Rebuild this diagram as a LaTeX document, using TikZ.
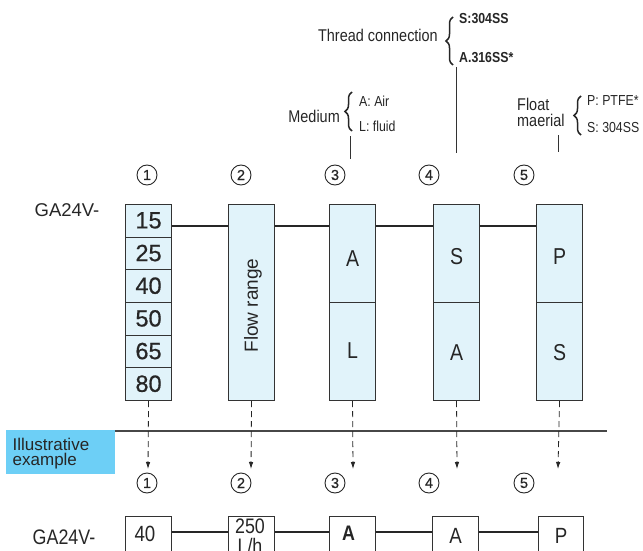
\documentclass[tikz,border=0pt]{standalone}
\usepackage{fontspec}
\setmainfont{Liberation Sans}
\newfontfamily\condf[FakeStretch=0.85]{Liberation Sans}
\newfontfamily\semif[FakeBold=0.6]{Liberation Sans}
\usetikzlibrary{arrows.meta,decorations.pathreplacing,calc}
\definecolor{linec}{HTML}{333333}
\definecolor{txt}{HTML}{262626}
\definecolor{boxfill}{HTML}{E1F3FA}
\definecolor{illus}{HTML}{6DCFF6}
\begin{document}
\begin{tikzpicture}[x=1pt,y=-1pt,
  cell/.style={draw=linec, fill=boxfill, line width=1.1pt, minimum width=46pt, inner sep=0pt, anchor=north west},
  wbox/.style={draw=linec, fill=white, line width=1.1pt, minimum width=46pt, minimum height=60pt, inner sep=0pt, anchor=north west},
  conn/.style={draw=black!85, line width=2.3pt},
  dasharr/.style={draw=black!85, line width=0.8pt, dash pattern=on 6pt off 4pt, -{Latex[length=7pt,width=4.5pt]}},
  tick/.style={draw=linec, line width=0.9pt},
  circnum/.style={circle, draw=txt, line width=0.9pt, minimum size=20pt, inner sep=0pt, text=txt, font=\semif\fontsize{14.5}{15}\selectfont},
  digit/.style={text=txt, inner sep=0pt, font=\semif\fontsize{23.5}{24}\selectfont},
  letter/.style={text=txt, inner sep=0pt, font=\condf\fontsize{23}{24}\selectfont},
  note/.style={text=txt, inner sep=0pt, anchor=west, font=\condf\fontsize{17}{18}\selectfont},
  small/.style={text=txt, inner sep=0pt, anchor=west, font=\condf\fontsize{14.5}{15}\selectfont},
  bnote/.style={text=txt, inner sep=0pt, anchor=west, font=\bfseries\condf\fontsize{14.5}{15}\selectfont},
  brc/.style={draw=txt, line width=1.5pt, decorate, decoration={brace, amplitude=7pt}},
  model/.style={text=txt, inner sep=0pt, font=\fontsize{18.5}{19}\selectfont}
]
\useasboundingbox (0,0) rectangle (643,551);

% ---------- top annotations ----------
\node[note, anchor=east] (thr) at (438,35) {Thread connection};
\draw[brc] (453,65) -- (453,17);
\node[bnote] (thr1) at (459,19) {S:304SS};
\node[bnote] (thr2) at (459,58) {A.316SS*};
\coordinate (tt1) at (456,67); \coordinate (tt2) at (456,153);
\draw[tick] (tt1) -- (tt2);

\node[note, anchor=east] (med) at (340,116) {Medium};
\draw[brc] (352,131) -- (352,92);
\node[small] (med1) at (359,101) {A: Air};
\node[small] (med2) at (359,126) {L: fluid};
\coordinate (mt1) at (350,136); \coordinate (mt2) at (350,159);
\draw[tick] (mt1) -- (mt2);

\node[note] (flo1) at (517,104.5) {Float};
\node[note] (flo2) at (517,120.5) {maerial};
\draw[brc] (581,135) -- (581,96);
\node[small] (flp) at (587,101) {P: PTFE*};
\node[small] (fls) at (587,127.5) {S: 304SS};
\coordinate (ft1) at (558,135); \coordinate (ft2) at (558,152);
\draw[tick] (ft1) -- (ft2);

% ---------- circled numbers (top) ----------
\foreach \x [count=\i] in {147,241,335,429,524}
  \node[circnum] (ct\i) at (\x,175) {\i};

\node[model] (ga1) at (67,210) {GA24V-};

% ---------- top boxes ----------
\foreach \v [count=\i] in {15,25,40,50,65,80}
  \node[cell, minimum height=32.67pt] (n\i) at (125,{204+(\i-1)*32.67}) {};
\foreach \v [count=\i] in {15,25,40,50,65,80}
  \node[digit] (d\i) at ([yshift=0.5pt]n\i.center) {\v};

\node[cell, minimum height=196pt] (b2) at (228,204) {};
\node[text=txt, rotate=90, inner sep=0pt, font=\fontsize{19}{20}\selectfont] (fr) at ([xshift=1.5pt,yshift=-3pt]b2.center) {Flow range};

\node[cell, minimum height=98pt] (b3a) at (329,204) {};
\node[cell, minimum height=98pt] (b3b) at (329,302) {};
\node[cell, minimum height=98pt] (b4a) at (433,204) {};
\node[cell, minimum height=98pt] (b4b) at (433,302) {};
\node[cell, minimum height=98pt] (b5a) at (536,204) {};
\node[cell, minimum height=98pt] (b5b) at (536,302) {};
\node[letter] at ([yshift=-5pt]b3a.center) {A};
\node[letter] at ([yshift=1pt]b3b.center) {L};
\node[letter] at ([yshift=-3pt]b4a.center) {S};
\node[letter] at ([yshift=-1pt]b4b.center) {A};
\node[letter] at ([yshift=-3pt]b5a.center) {P};
\node[letter] at ([yshift=-1pt]b5b.center) {S};

% connectors top
\draw[conn] ([yshift=-22pt]n1.north east) -- ([yshift=-22pt]b2.north west);
\draw[conn] ([yshift=-22pt]b2.north east) -- ([yshift=-22pt]b3a.north west);
\draw[conn] ([yshift=-22pt]b3a.north east) -- ([yshift=-22pt]b4a.north west);
\draw[conn] ([yshift=-22pt]b4a.north east) -- ([yshift=-22pt]b5a.north west);

% ---------- illustrative example ----------
\node[fill=illus, minimum width=109pt, minimum height=44pt, inner sep=0pt, anchor=north west] (ill) at (6,430) {};
\node[text=txt, inner sep=0pt, anchor=west, font=\fontsize{17}{17}\selectfont] (il1) at (12.5,444) {Illustrative};
\node[text=txt, inner sep=0pt, anchor=west, font=\fontsize{17}{17}\selectfont] (il2) at (12.5,461) {example};
\coordinate (hr) at (607,431);
\draw[draw=linec!90, line width=1.2pt] ([yshift=-1pt]ill.north east) -- (hr);

% dashed arrows
\foreach \x [count=\i] in {148,251,353,457,558}
  \coordinate (t\i) at (\x,469);
\draw[dasharr] (n6.south) -- (t1);
\draw[dasharr] (b2.south) -- (t2);
\draw[dasharr] (b3b.south) -- (t3);
\draw[dasharr] (b4b.south) -- (t4);
\draw[dasharr] (b5b.south) -- (t5);

% ---------- circled numbers (bottom) ----------
\foreach \x [count=\i] in {147,241,335,429,524}
  \node[circnum] (cb\i) at (\x,483) {\i};

% ---------- bottom boxes ----------
\node[model, font=\condf\fontsize{21}{22}\selectfont] (ga2) at (64,537) {GA24V-};
\node[wbox] (e1) at (125,516) {};
\node[wbox] (e2) at (228,516) {};
\node[wbox] (e3) at (329,516) {};
\node[wbox] (e4) at (432,516) {};
\node[wbox, minimum width=45pt] (e5) at (538,516) {};
\node[letter, font=\condf\fontsize{22}{22}\selectfont] at (145,534) {40};
\node[letter, font=\condf\fontsize{21}{21}\selectfont] at (250,526) {250};
\node[letter, font=\condf\fontsize{21}{21}\selectfont] at (250,546) {L/h};
\node[letter, font=\bfseries\condf\fontsize{21}{22}\selectfont] at (348.5,533.5) {A};
\node[letter, font=\condf\fontsize{22}{22}\selectfont] at (455.5,536) {A};
\node[letter, font=\condf\fontsize{22}{22}\selectfont] at (561,535.5) {P};

\draw[conn] ([yshift=-16pt]e1.north east) -- ([yshift=-16pt]e2.north west);
\draw[conn] ([yshift=-16pt]e2.north east) -- ([yshift=-16pt]e3.north west);
\draw[conn] ([yshift=-16pt]e3.north east) -- ([yshift=-16pt]e4.north west);
\draw[conn] ([yshift=-16pt]e4.north east) -- ([yshift=-16pt]e5.north west);
\end{tikzpicture}
\end{document}
